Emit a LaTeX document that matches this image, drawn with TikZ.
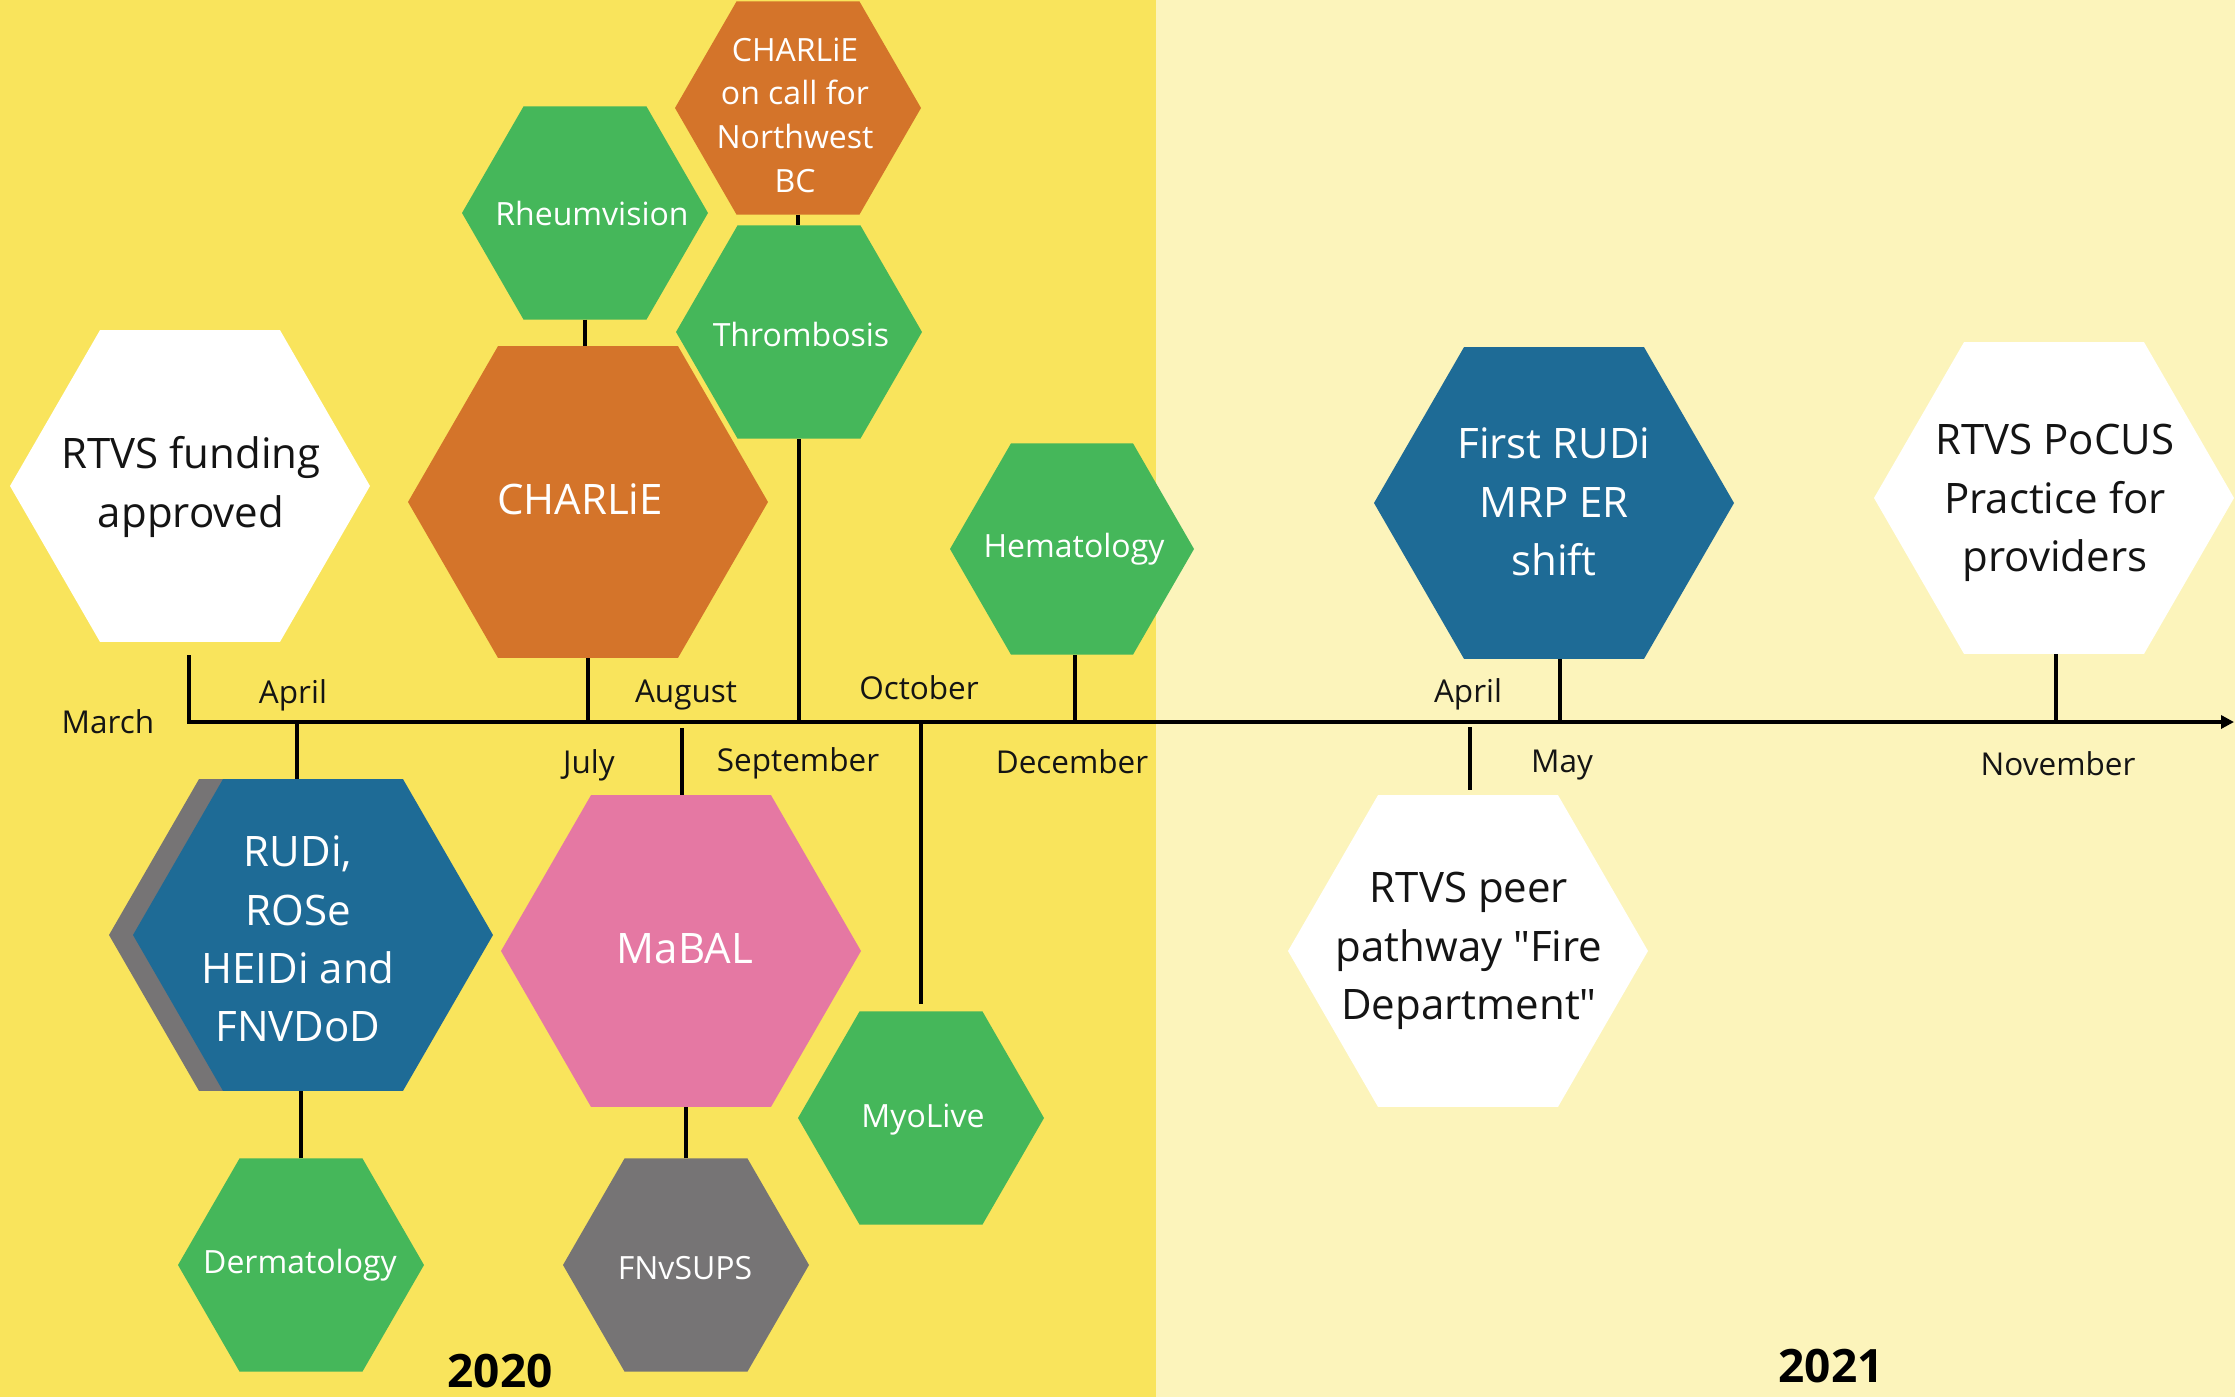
\documentclass[tikz,border=0pt]{standalone}
\usepackage{fontspec}
\setmainfont{Open Sans}
\usetikzlibrary{shapes.geometric,arrows.meta}
\definecolor{ydark}{RGB}{249,228,92}
\definecolor{ylight}{RGB}{252,244,187}
\definecolor{hgreen}{RGB}{69,183,90}
\definecolor{horange}{RGB}{212,116,42}
\definecolor{hblue}{RGB}{30,107,150}
\definecolor{hpink}{RGB}{229,120,163}
\definecolor{hgray}{RGB}{118,116,117}
\definecolor{ink}{RGB}{20,20,20}
\newcommand\dq{\XeTeXglyph\XeTeXcharglyph"22\relax}
\begin{document}
\begin{tikzpicture}[x=1pt,y=-1pt,
  hexb/.style={regular polygon, regular polygon sides=6, inner sep=0pt, outer sep=0pt, draw=none},
  hsmall/.style={hexb, minimum size=246pt},
  hbig/.style={hexb, minimum size=360pt},
  lbl/.style={font=\fontsize{32}{43.7}\selectfont, text=white, align=center, inner sep=0pt},
  lblbig/.style={font=\fontsize{42}{58.4}\selectfont, text=white, align=center, inner sep=0pt},
  month/.style={font=\fontsize{31.5}{40}\selectfont, anchor=base, inner sep=0pt, text=ink},
  year/.style={font=\bfseries\fontsize{46}{56}\selectfont, anchor=base, inner sep=0pt, text=black},
  conn/.style={line width=3.5pt, draw=black}]
\useasboundingbox (0,0) rectangle (2235,1397);
% background
\fill[ydark] (0,0) rectangle (1156,1397);
\fill[ylight] (1156,0) rectangle (2235,1397);

% hexagons
\node[hbig, fill=white] (rtvs) at (190,486) {};
\node[hsmall, fill=hgreen] (rheum) at (585,213) {};
\node[hsmall, fill=horange] (oncall) at (798,108) {};
\node[hsmall, fill=hgreen] (thromb) at (799,332) {};
\node[hbig, fill=horange] (charlie) at (588,502) {};
\node[hsmall, fill=hgreen, minimum size=244pt] (hema) at (1072,549) {};
\node[hbig, fill=hgray] (rudish) at (289,935) {};
\node[hbig, fill=hblue] (rudi) at (313,935) {};
\node[hsmall, fill=hgreen] (derm) at (301,1265) {};
\node[hbig, fill=hpink] (mabal) at (681,951) {};
\node[hsmall, fill=hgray] (fnv) at (686,1265) {};
\node[hsmall, fill=hgreen] (myo) at (921,1118) {};
\node[hbig, fill=hblue] (first) at (1554,503) {};
\node[hbig, fill=white] (peer) at (1468,951) {};
\node[hbig, fill=white] (pocus) at (2054,498) {};

% hexagon texts
\node[lblbig, text=ink] (rtvs-t) at (191,487) {RTVS funding\\approved};
\node[lbl] (rheum-t) at (592,213) {Rheumvision};
\node[lbl] (oncall-t) at (795,115) {CHARLiE\\on call for\\Northwest\\BC};
\node[lbl] (thromb-t) at (801,334) {Thrombosis};
\node[lblbig] (charlie-t) at (580,499) {CHARLiE};
\node[lbl] (hema-t) at (1074,549) {Hematology};
\node[lblbig] (rudi-t) at (298,939) {RUDi,\\ROSe\\HEIDi and\\FNVDoD};
\node[lbl] (derm-t) at (300,1265) {Dermatology};
\node[lblbig] (mabal-t) at (685,949) {MaBAL};
\node[lbl] (fnv-t) at (685,1268) {FNvSUPS};
\node[lbl] (myo-t) at (923,1120) {MyoLive};
\node[lblbig] (first-t) at (1554,502) {First RUDi\\MRP ER\\shift};
\node[lblbig, text=ink] (peer-t) at (1469,951) {RTVS peer\\pathway \dq Fire\\Department\dq};
\node[lblbig, text=ink] (pocus-t) at (2055,503) {RTVS PoCUS\\Practice for\\providers};

% axis
\coordinate (axL) at (187,722);
\coordinate (axR) at (2234,722);
\draw[conn, -{Triangle[length=13pt,width=13pt]}] (axL) -- (axR);

\coordinate (aMar) at (189,722);
\coordinate (aAprL) at (297,722);
\coordinate (aJul) at (588,722);
\coordinate (aAug) at (682,722);
\coordinate (aSep) at (799,722);
\coordinate (aOct) at (921,722);
\coordinate (aDec) at (1075,722);
\coordinate (aAprR) at (1470,722);
\coordinate (aMay) at (1560,722);
\coordinate (aNov) at (2056,722);

% connectors
\draw[conn, shorten >=13pt] (aMar) -- (aMar |- rtvs.south);
\draw[conn] (aAprL) -- (aAprL |- rudi.north);
\draw[conn] (aJul) -- (aJul |- charlie.south);
\draw[conn] (rheum.south) -- (rheum.south |- charlie.north);
\draw[conn] (oncall.south) -- (oncall.south |- thromb.north);
\draw[conn] (aSep) -- (aSep |- thromb.south);
\draw[conn, shorten <=6pt] (aAug) -- (aAug |- mabal.north);
\draw[conn, shorten >=7pt] (aOct) -- (aOct |- myo.north);
\draw[conn] (aDec) -- (aDec |- hema.south);
\draw[conn] (derm.north) -- (derm.north |- rudi.south);
\draw[conn] (fnv.north) -- (fnv.north |- mabal.south);
\draw[conn] (aMay) -- (aMay |- first.south);
\draw[conn, shorten <=5pt, shorten >=5pt] (aAprR) -- (aAprR |- peer.north);
\draw[conn] (aNov) -- (aNov |- pocus.south);

% month labels
\node[month] (mMar) at (108,733) {March};
\node[month] (mAprL) at (293,703) {April};
\node[month] (mJul) at (589,773) {July};
\node[month] (mAug) at (686,702) {August};
\node[month] (mSep) at (798,771) {September};
\node[month] (mOct) at (919,699) {October};
\node[month] (mDec) at (1072,773) {December};
\node[month] (mAprR) at (1468,702) {April};
\node[month] (mMay) at (1562,772) {May};
\node[month] (mNov) at (2058,775) {November};

% years
\node[year] (y2020) at (500,1387) {2020};
\node[year] (y2021) at (1831,1382) {2021};
\end{tikzpicture}
\end{document}
